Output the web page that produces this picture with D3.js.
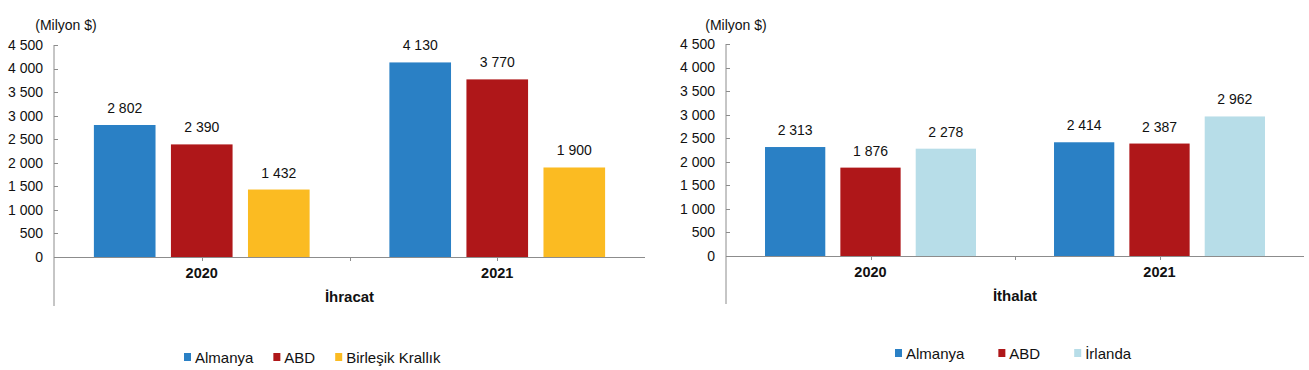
<!DOCTYPE html>
<html>
<head>
<meta charset="utf-8">
<script src="https://cdn.jsdelivr.net/npm/d3@7"></script>
<style>
  body { margin: 0; background: #fff; }
  svg { display: block; font-family: "Liberation Sans", Arial, sans-serif; }
</style>
</head>
<body>
<svg id="chart" width="1309" height="370"></svg>
<script>
// data
const years = ['2020', '2021'];
const exportSeries = ['Almanya', 'ABD', 'Birleşik Krallık'];
const exportValues = [
  [2802, 2390, 1432],
  [4130, 3770, 1900]
];
const importSeries = ['Almanya', 'ABD', 'İrlanda'];
const importValues = [
  [2313, 1876, 2278],
  [2414, 2387, 2962]
];
const yTicks = [0, 500, 1000, 1500, 2000, 2500, 3000, 3500, 4000, 4500];
const unitLabel = '(Milyon $)';

const colors = {
  'Almanya': '#2a80c5',
  'ABD': '#af1719',
  'Birleşik Krallık': '#fbbb22',
  'İrlanda': '#b7dde8'
};

const fmt = v => d3.format(',')(v).replace(/,/g, ' ');
const axisColor = '#8c8c8c';

const svg = d3.select('#chart');

function drawPanel(opt) {
  const g = svg.append('g');
  const x0 = d3.scaleBand().domain(years).range([opt.left, opt.right]).padding(0);
  const y = d3.scaleLinear().domain([0, 4500]).range([opt.zeroY, opt.topY]);
  const bw = x0.bandwidth();
  const x1 = d3.scaleBand()
    .domain(opt.series)
    .range([bw * 0.135, bw * 0.865])
    .paddingInner(0.2)
    .paddingOuter(0);

  // unit label
  g.append('text')
    .attr('x', opt.unitX)
    .attr('y', 30)
    .attr('text-anchor', 'middle')
    .style('font-size', '14px')
    .style('fill', '#111')
    .text(unitLabel);

  // y axis line + inside ticks
  g.append('line')
    .attr('x1', opt.left).attr('x2', opt.left)
    .attr('y1', opt.topY).attr('y2', opt.axisBottom)
    .attr('stroke', axisColor);
  g.selectAll('.ytick')
    .data(yTicks)
    .enter()
    .append('line')
    .attr('x1', opt.left).attr('x2', opt.left + 4)
    .attr('y1', d => Math.round(y(d)) + 0.5)
    .attr('y2', d => Math.round(y(d)) + 0.5)
    .attr('stroke', axisColor);
  g.selectAll('.ylab')
    .data(yTicks)
    .enter()
    .append('text')
    .attr('x', opt.left - 11)
    .attr('y', d => y(d))
    .attr('dy', '0.35em')
    .attr('text-anchor', 'end')
    .style('font-size', '14px')
    .style('fill', '#111')
    .text(d => fmt(d));

  // bars
  const groups = g.selectAll('.grp')
    .data(years)
    .enter()
    .append('g')
    .attr('transform', d => `translate(${x0(d)},0)`);

  groups.selectAll('rect')
    .data((d, i) => opt.series.map((s, j) => ({ s, v: opt.values[i][j] })))
    .enter()
    .append('rect')
    .attr('x', d => x1(d.s))
    .attr('width', x1.bandwidth())
    .attr('y', d => y(d.v))
    .attr('height', d => y(0) - y(d.v))
    .attr('fill', d => colors[d.s]);

  groups.selectAll('.vlab')
    .data((d, i) => opt.series.map((s, j) => ({ s, v: opt.values[i][j] })))
    .enter()
    .append('text')
    .attr('x', d => x1(d.s) + x1.bandwidth() / 2)
    .attr('y', d => y(d.v) - 12)
    .attr('text-anchor', 'middle')
    .style('font-size', '14px')
    .style('fill', '#111')
    .text(d => fmt(d.v));

  // x axis line
  g.append('line')
    .attr('x1', opt.left).attr('x2', opt.right)
    .attr('y1', Math.round(y(0)) + 0.5).attr('y2', Math.round(y(0)) + 0.5)
    .attr('stroke', axisColor);

  // category ticks at centers and between
  const tickXs = years.map(d => x0(d) + bw / 2);
  tickXs.splice(1, 0, (tickXs[0] + tickXs[1]) / 2);
  g.selectAll('.xtick')
    .data(tickXs)
    .enter()
    .append('line')
    .attr('x1', d => Math.round(d) + 0.5).attr('x2', d => Math.round(d) + 0.5)
    .attr('y1', y(0)).attr('y2', y(0) + 4)
    .attr('stroke', axisColor);

  // year labels
  g.selectAll('.xlab')
    .data(years)
    .enter()
    .append('text')
    .attr('x', d => x0(d) + bw / 2)
    .attr('y', y(0) + 21)
    .attr('text-anchor', 'middle')
    .style('font-size', '14.5px')
    .style('font-weight', 'bold')
    .style('fill', '#111')
    .text(d => d);

  // group label
  g.append('text')
    .attr('x', (opt.left + opt.right) / 2)
    .attr('y', y(0) + 45)
    .attr('text-anchor', 'middle')
    .style('font-size', '15px')
    .style('font-weight', 'bold')
    .style('fill', '#111')
    .text(opt.title);

  // legend
  const leg = g.append('g').attr('transform', `translate(${opt.legendX},${opt.legendY})`);
  let cx = 0;
  opt.series.forEach(s => {
    leg.append('rect')
      .attr('x', cx).attr('y', -5)
      .attr('width', 7).attr('height', 8)
      .attr('fill', colors[s]);
    const t = leg.append('text')
      .attr('x', cx + 11)
      .attr('y', 0)
      .attr('dy', '0.35em')
      .style('font-size', '15px')
      .style('fill', '#111')
      .text(s);
    cx += 11 + t.node().getComputedTextLength() + opt.legendGap;
  });
}

drawPanel({
  series: exportSeries,
  values: exportValues,
  left: 54, right: 645,
  topY: 45, zeroY: 257, axisBottom: 306,
  unitX: 66,
  title: 'İhracat',
  legendX: 184, legendY: 358, legendGap: 20
});

drawPanel({
  series: importSeries,
  values: importValues,
  left: 726, right: 1304,
  topY: 44, zeroY: 256, axisBottom: 304,
  unitX: 736,
  title: 'İthalat',
  legendX: 895, legendY: 354, legendGap: 34
});
</script>
</body>
</html>
